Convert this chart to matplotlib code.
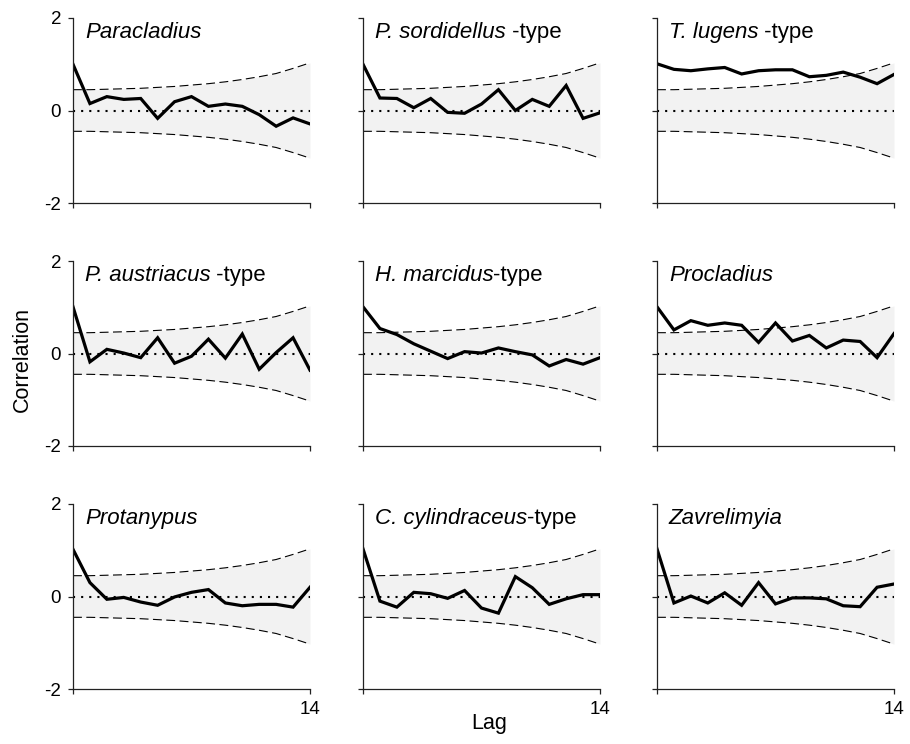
import matplotlib.pyplot as plt
import numpy as np

plt.rcParams['font.family'] = ['Liberation Sans', 'DejaVu Sans']
plt.rcParams['axes.unicode_minus'] = False

# lag axis and the 95% confidence limit used in every panel
lags = [0, 1, 2, 3, 4, 5, 6, 7, 8, 9, 10, 11, 12, 13, 14]
conf_limit = [0.45, 0.45, 0.46, 0.47, 0.48, 0.50, 0.52, 0.55, 0.58, 0.62,
              0.67, 0.73, 0.80, 0.91, 1.03]

# autocorrelation per taxon
paracladius = [1.00, 0.15, 0.30, 0.24, 0.26, -0.17, 0.19, 0.30, 0.09, 0.14,
               0.09, -0.09, -0.34, -0.16, -0.29]
sordidellus = [1.00, 0.27, 0.26, 0.06, 0.26, -0.04, -0.06, 0.14, 0.45, 0.00,
               0.24, 0.09, 0.54, -0.17, -0.05]
lugens = [1.01, 0.89, 0.86, 0.90, 0.93, 0.79, 0.86, 0.88, 0.88, 0.73,
          0.76, 0.83, 0.72, 0.58, 0.78]
austriacus = [1.01, -0.18, 0.09, 0.01, -0.09, 0.34, -0.21, -0.06, 0.31, -0.10,
              0.42, -0.34, 0.02, 0.34, -0.36]
marcidus = [1.01, 0.54, 0.41, 0.21, 0.05, -0.11, 0.04, 0.01, 0.12, 0.04,
            -0.03, -0.27, -0.13, -0.23, -0.09]
procladius = [1.01, 0.51, 0.71, 0.61, 0.66, 0.61, 0.24, 0.66, 0.27, 0.39,
              0.12, 0.29, 0.26, -0.09, 0.43]
protanypus = [1.02, 0.30, -0.06, -0.02, -0.12, -0.19, -0.01, 0.09, 0.15, -0.14,
              -0.20, -0.17, -0.17, -0.23, 0.20]
cylindraceus = [1.03, -0.10, -0.23, 0.09, 0.06, -0.04, 0.13, -0.25, -0.36, 0.43,
                0.19, -0.17, -0.05, 0.04, 0.04]
zavrelimyia = [1.03, -0.14, 0.01, -0.14, 0.08, -0.19, 0.30, -0.16, -0.03, -0.03,
               -0.05, -0.20, -0.22, 0.20, 0.27]

series = [paracladius, sordidellus, lugens,
          austriacus, marcidus, procladius,
          protanypus, cylindraceus, zavrelimyia]
names = ['Paracladius', 'P. sordidellus', 'T. lugens',
         'P. austriacus', 'H. marcidus', 'Procladius',
         'Protanypus', 'C. cylindraceus', 'Zavrelimyia']
suffixes = ['', ' -type', ' -type',
            ' -type', '-type', '',
            '', '-type', '']

W, H = 910, 744
fig = plt.figure(figsize=(W / 100, H / 100), dpi=100)

lefts = [73, 363, 657]
tops = [18, 261, 504]
aw, ah = 237, 185

upper = np.array(conf_limit)

for i, (vals, name, suffix) in enumerate(zip(series, names, suffixes)):
    r, c = divmod(i, 3)
    ax = fig.add_axes([lefts[c] / W, 1 - (tops[r] + ah) / H, aw / W, ah / H])

    ax.fill_between(lags, -upper, upper, color='#f2f2f2', lw=0, zorder=0)
    ax.plot(lags, upper, color='k', lw=0.8, ls=(0, (8, 4)))
    ax.plot(lags, -upper, color='k', lw=0.8, ls=(0, (8, 4)))
    ax.axhline(0, color='k', lw=1.5, ls=(0, (1, 2.9)))
    ax.plot(lags, vals, color='k', lw=2.3, solid_joinstyle='miter')

    ax.set_xlim(0, 14)
    ax.set_ylim(-2, 2)
    for side in ('top', 'right'):
        ax.spines[side].set_visible(False)
    for side in ('left', 'bottom'):
        ax.spines[side].set_linewidth(0.9)
        ax.spines[side].set_color('#222222')

    ax.set_xticks([0, 14])
    ax.set_yticks([-2, 0, 2])
    ax.tick_params(direction='out', length=3.5, width=0.9, color='#222222',
                   labelsize=13.5, pad=5)
    ax.set_yticklabels(['-2', '0', '2'] if c == 0 else [])
    ax.set_xticklabels(['', '14'] if r == 2 else [])

    t = ax.text(0.05, 0.892, name, transform=ax.transAxes, fontsize=16,
                style='italic', va='baseline', ha='left')
    if suffix:
        ax.annotate(suffix, xy=(1, 0), xycoords=t, va='bottom', ha='left',
                    fontsize=16)

fig.text(22 / W, 1 - 359 / H, 'Correlation', rotation=90, fontsize=15.5,
         ha='center', va='center')
fig.text(489 / W, 1 - 723 / H, 'Lag', fontsize=15.5, ha='center', va='center')

fig.savefig('out.png', dpi=100)
